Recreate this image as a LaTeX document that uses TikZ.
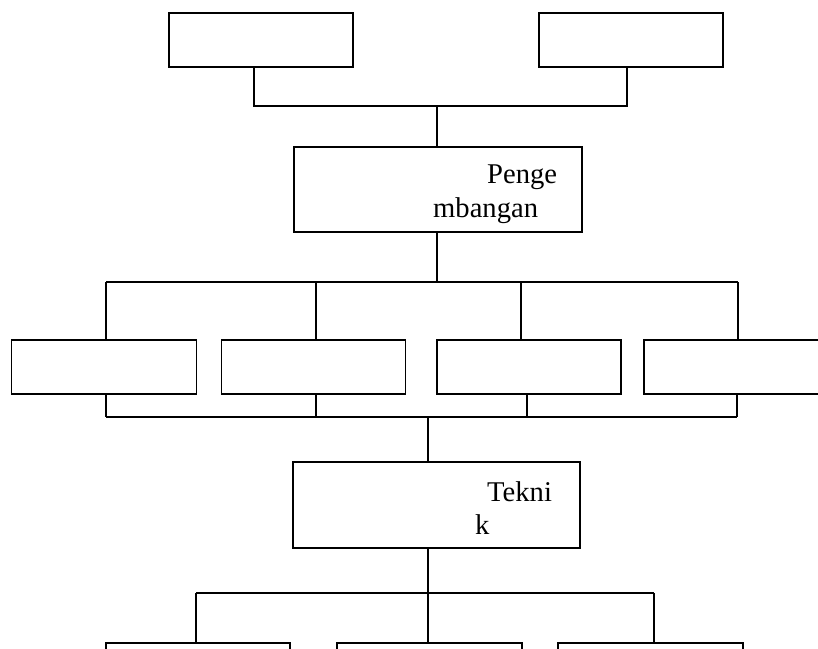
\documentclass[tikz,border=0pt]{standalone}
\usepackage{fontspec}
\setmainfont{Liberation Serif}
\begin{document}
\begin{tikzpicture}[x=1pt,y=-1pt,
    kotak/.style={draw, line width=1.2pt, inner sep=0pt},
    garis/.style={line width=1.8pt},
    teks/.style={anchor=base west, inner sep=0pt, font=\fontsize{28.6}{34}\selectfont}]
    \useasboundingbox (0,0) rectangle (818,648);
    \clip (0,0) rectangle (818,648);

    % Boxes
    \foreach \n/\cx/\cy/\w/\h in {atas1/261/40/184/54, atas2/631/40/184/54,
        pg/438/189.5/288/85,
        r1/104/367/185/54, r2/313.7/367/184/54, r3/529/367/184/54, r4/736/367/184/54,
        tk/436.5/505/287/86,
        b1/198/670/184/54, b2/429.5/670/185/54, b3/650.5/670/185/54}
        \node[kotak, minimum width=\w pt, minimum height=\h pt] (\n) at (\cx,\cy) {};

    % Texts
    \node[teks] (pg1) at (487,183) {Penge};
    \node[teks] (pg2) at (433,217) {mbangan};
    \node[teks] (tk1) at (487,501) {Tekni};
    \node[teks] (tk2) at (475,534) {k};

    % Top joint
    \coordinate (j1) at (254,106); \coordinate (j2) at (627,106);
    \coordinate (j3) at (437,106);
    \draw[garis] (j1 |- atas1.south) -- (j1) -- (j2) -- (j2 |- atas2.south);
    \draw[garis] (j3) -- (j3 |- pg.north);

    % Row of four, above
    \coordinate (k0) at (437,282);
    \draw[garis] (j3 |- pg.south) -- (k0);
    \foreach \i/\x in {1/106, 2/316, 3/521, 4/738} {
        \coordinate (k\i) at (\x,282);
        \draw[garis] (k\i) -- (k\i |- r\i.north);
    }
    \draw[garis] (k1) -- (k4);

    % Row of four, below
    \foreach \i/\x in {1/106, 2/316, 3/527, 4/737} {
        \coordinate (m\i) at (\x,417);
        \draw[garis] (m\i |- r\i.south) -- (m\i);
    }
    \draw[garis] (m1) -- (m4);
    \coordinate (m0) at (428,417);
    \draw[garis] (m0) -- (m0 |- tk.north);

    % Bottom row
    \coordinate (n0) at (428,593);
    \draw[garis] (n0 |- tk.south) -- (n0);
    \foreach \i/\x in {1/196, 2/428, 3/654} {
        \coordinate (n\i) at (\x,593);
        \draw[garis] (n\i) -- (n\i |- b\i.north);
    }
    \draw[garis] (n1) -- (n3);
\end{tikzpicture}
\end{document}
